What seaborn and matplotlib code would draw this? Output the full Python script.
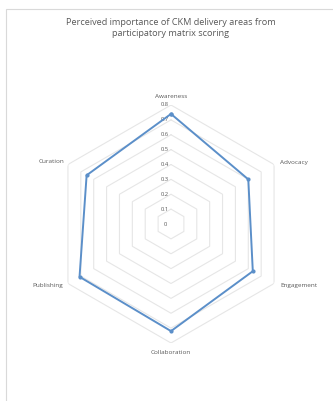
import numpy as np
import pandas as pd
import matplotlib
matplotlib.use("Agg")
import matplotlib.pyplot as plt
import seaborn as sns

# Delivery areas, clockwise from the top, and their matrix scores
areas = ["Awareness", "Advocacy", "Engagement", "Collaboration", "Publishing", "Curation"]
scores = [0.74, 0.60, 0.635, 0.72, 0.71, 0.655]
ring_levels = [0.1, 0.2, 0.3, 0.4, 0.5, 0.6, 0.7, 0.8]
ring_labels = ["0", "0.1", "0.2", "0.3", "0.4", "0.5", "0.6", "0.7", "0.8"]
title = "Perceived importance of CKM delivery areas from\nparticipatory matrix scoring"

sns.set_theme(style="white")
plt.rcParams["font.family"] = ["Open Sans", "DejaVu Sans"]

TEXT = "#595959"
GRID = "#e6e6e6"
LINE = "#5b8fc9"

W, H = 333, 401
fig = plt.figure(figsize=(W / 100, H / 100), dpi=100)

# chart frame (runs off the right and bottom edges)
fig.patches.append(plt.Rectangle((6 / W, -0.02), 1.1, 1 - 9 / H + 0.02,
                                 transform=fig.transFigure, fill=False,
                                 edgecolor="#d9d9d9", lw=0.8))

fig.text(171 / W, 1 - 28 / H, title, ha="center", va="center",
         fontsize=6.6, color=TEXT, linespacing=1.35)

cx, cy, R = 171, 224, 119
ax = fig.add_axes([(cx - R) / W, (H - cy - R) / H, 2 * R / W, 2 * R / H],
                  projection="polar")
ax.set_theta_zero_location("N")
ax.set_theta_direction(-1)
ax.grid(False)
ax.spines["polar"].set_visible(False)
ax.patch.set_alpha(0)

n = len(areas)
theta = np.arange(n) * 2 * np.pi / n
# close the loop at 2*pi so the first and last points keep distinct x values
theta_closed = np.append(theta, 2 * np.pi)

# hexagonal gridlines
for lv in ring_levels:
    ax.plot(theta_closed, [lv] * (n + 1), color=GRID, lw=0.8, zorder=1)

# radial value labels, just left of the vertical axis
for i, lab in enumerate(ring_labels):
    ax.annotate(lab, xy=(0, i * 0.1), xytext=(-6, 0), textcoords="offset pixels",
                ha="center", va="center", fontsize=4.2, color=TEXT)

# category labels around the outer ring
offsets = [(0, 9, "center"), (6, 2, "left"), (6, -2, "left"),
           (0, -9, "center"), (-5, -2, "right"), (-4, 3, "right")]
for t, name, (dx, dy, ha) in zip(theta, areas, offsets):
    ax.annotate(name, xy=(t, ring_levels[-1]), xytext=(dx, dy),
                textcoords="offset pixels", ha=ha, va="center",
                fontsize=4.6, color=TEXT)

df = pd.DataFrame({"theta": theta_closed, "score": scores + scores[:1]})
sns.lineplot(data=df, x="theta", y="score", sort=False, ax=ax, color=LINE,
             lw=1.4, marker="o", markersize=3, markeredgewidth=0, zorder=3)
ax.set_xlabel("")
ax.set_ylabel("")
ax.set_xticks([])
ax.set_yticks([])
ax.set_ylim(0, 0.8)

fig.savefig("out.png", dpi=100)
